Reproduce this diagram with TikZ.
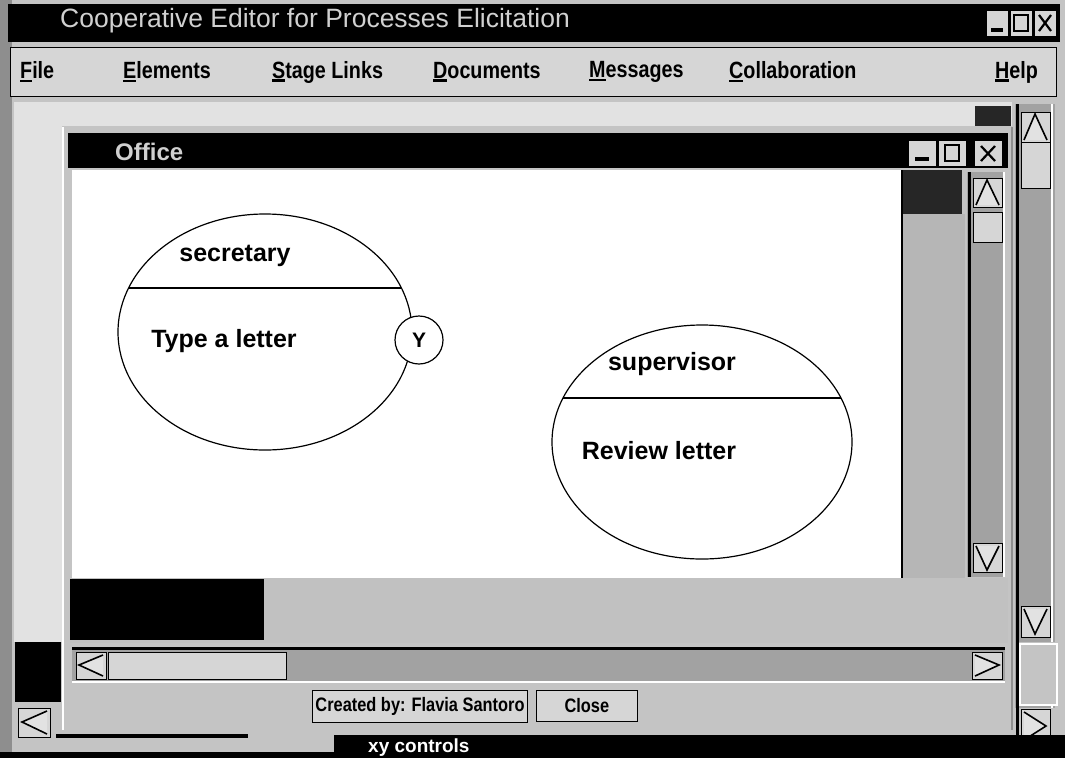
\documentclass[tikz,border=0pt]{standalone}
\usepackage{fontspec}
\setmainfont{Liberation Sans}
\newfontfamily\narrowfont[FakeStretch=0.84]{Liberation Sans}
\usetikzlibrary{shapes.geometric}

\definecolor{panel}{HTML}{C4C4C4}
\definecolor{lightpanel}{HTML}{D6D6D6}
\definecolor{canvasgray}{HTML}{E2E2E2}
\definecolor{trough}{HTML}{A2A2A2}
\definecolor{darkpanel}{HTML}{8E8E8E}
\definecolor{titletext}{HTML}{D0D0D0}

% underlined access letter in the menu
\newcommand\mnem[1]{\setbox0\hbox{#1}\rlap{\rule[-3.5pt]{\wd0}{2.5pt}}#1}

\tikzset{
  menuitem/.style={anchor=west, inner sep=0pt, font=\narrowfont\bfseries\fontsize{23.5}{26}\selectfont},
  rolename/.style={inner sep=0pt, font=\bfseries\fontsize{25}{29}\selectfont},
  btn/.style={fill=lightpanel, draw=black, line width=1pt},
  arrowtri/.style={fill=canvasgray, draw=black, line width=1.6pt, line join=miter},
}

\begin{document}
\begin{tikzpicture}[x=1pt, y=-1pt]
\clip (0,0) rectangle (1065,758);
\fill[panel] (0,0) rectangle (1065,758);
\fill[darkpanel] (0,0) rectangle (12,758);

% main window: title and menu
\fill[black] (8,4) rectangle (1060,42);
\node[anchor=west, inner sep=0pt, text=titletext, font=\fontsize{26.5}{30}\selectfont] (apptitle) at (60,21) {Cooperative Editor for Processes Elicitation};
\foreach \x in {986,1010,1034}
  {\draw[btn] (\x,10) rectangle +(22,26);}
\fill[black] (991,28) rectangle (1003,32);
\draw[line width=1.6pt] (1014,15) rectangle (1028,31);
\draw[line width=2.2pt] (1039,15) -- (1051,31) (1051,15) -- (1039,31);

\draw[fill=lightpanel, line width=1pt] (10,47) rectangle (1056,96);
\node[menuitem] (mfile) at (20,72) {\mnem{F}ile};
\node[menuitem] (melem) at (123,72) {\mnem{E}lements};
\node[menuitem] (mstage) at (272,72) {\mnem{S}tage Links};
\node[menuitem] (mdocs) at (433,72) {\mnem{D}ocuments};
\node[menuitem] (mmsg) at (589,72) {\mnem{M}essages};
\node[menuitem] (mcollab) at (729,72) {\mnem{C}ollaboration};
\node[menuitem] (mhelp) at (995,72) {\mnem{H}elp};

% main window work area and its scroll bars
\fill[canvasgray] (14,102) rectangle (1012,642);
\fill[black!85] (975,106) rectangle (1011,131);
\fill[trough] (1015,104) rectangle (1055,708);
\draw[line width=3pt] (1017,104) -- (1017,735);
\draw[white, line width=2pt] (1052,104) -- (1052,708);
\draw[btn] (1021,112) rectangle (1050,142);
\draw[arrowtri] (1024,140) -- (1035,114) -- (1047,140);
\draw[btn] (1021,142) rectangle (1050,188);
\draw[btn] (1021,606) rectangle (1050,637);
\draw[arrowtri] (1024,609) -- (1035,634) -- (1047,609);
\fill[panel] (1019,642) rectangle (1058,706);
\draw[white, line width=1.5pt] (1020,644) rectangle (1057,705);
\draw[btn] (1021,709) rectangle (1050,742);
\draw[arrowtri] (1024,712) -- (1046,726) -- (1024,740);

\fill[black] (15,642) rectangle (61,702);
\draw[btn] (18,708) rectangle (50,737);
\draw[arrowtri] (47,711) -- (22,722) -- (47,734);
\draw[line width=4pt] (56,736) -- (248,736);

% the Office window
\fill[panel] (62,126) rectangle (1013,730);
\draw[white, line width=1.5pt] (63,127) -- (63,730);
\draw[darkpanel, line width=1.5pt] (1012,127) -- (1012,730);
\fill[black] (68,133) rectangle (1008,168);
\node[anchor=west, inner sep=0pt, text=titletext, font=\bfseries\fontsize{24}{28}\selectfont] (wintitle) at (115,152) {Office};
\foreach \x in {908,938,974}
  {\draw[btn] (\x,140) rectangle +(28,26);}
\fill[black] (915,157) rectangle (929,161);
\draw[line width=1.6pt] (945,145) rectangle (959,161);
\draw[line width=2.2pt] (981,146) -- (995,161) (995,146) -- (981,161);

% drawing area
\fill[white] (72,170) rectangle (902,578);
\fill[black!85] (902,170) rectangle (962,214);
\fill[lightpanel!85!black] (902,214) rectangle (965,578);
\draw[line width=1.2pt] (902,170) -- (902,578);

% vertical scroll bar
\fill[trough] (967,172) rectangle (1005,577);
\draw[line width=3pt] (969,172) -- (969,577);
\draw[white, line width=2pt] (1004,172) -- (1004,577);
\draw[btn] (973,178) rectangle (1002,207);
\draw[arrowtri] (976,205) -- (987,180) -- (999,205);
\draw[btn] (973,212) rectangle (1002,242);
\draw[btn] (973,543) rectangle (1002,572);
\draw[arrowtri] (976,546) -- (987,570) -- (999,546);

% area below the drawing
\fill[lightpanel!90!black] (70,578) rectangle (1008,643);
\fill[black] (70,579) rectangle (264,640);

% horizontal scroll bar
\fill[trough] (72,648) rectangle (1005,682);
\draw[line width=3pt] (72,648) -- (1005,648);
\draw[white, line width=2pt] (72,682) -- (1005,682);
\draw[btn] (76,652) rectangle (106,679);
\draw[arrowtri] (103,655) -- (79,665) -- (103,676);
\draw[btn] (108,652) rectangle (286,679);
\draw[btn] (972,652) rectangle (1002,679);
\draw[arrowtri] (975,655) -- (999,665) -- (975,676);

% footer
\node[draw, line width=1pt, fill=lightpanel, inner xsep=3pt, minimum height=32pt, font=\narrowfont\bfseries\fontsize{19.5}{22}\selectfont] (author) at (420,706) {Created by: Flavia Santoro};
\node[btn, inner xsep=28pt, minimum height=31pt, font=\narrowfont\bfseries\fontsize{19.5}{22}\selectfont, anchor=west] (close) at (536,706) {Close};

% the window below
\fill[black] (0,752) rectangle (334,758);
\fill[black] (334,735) rectangle (1065,758);
\node[anchor=west, inner sep=0pt, text=white, font=\bfseries\fontsize{19}{22}\selectfont] (xytitle) at (368,748) {xy controls};

% roles and tasks
\node[draw, ellipse, line width=1.2pt, minimum width=294pt, minimum height=236pt] (secretary) at (265,332) {};
\draw[line width=1.2pt] ([xshift=-136pt, yshift=44pt]secretary.center) -- ([xshift=136pt, yshift=44pt]secretary.center);
\node[rolename] (secname) at (235,256) {secretary};
\node[rolename] (sectask) at (224,341) {Type a letter};
\node[draw, circle, fill=white, line width=1.2pt, minimum size=48pt, inner sep=0pt, font=\bfseries\fontsize{21}{25}\selectfont] (yes) at (419,340) {Y};

\node[draw, ellipse, line width=1.2pt, minimum width=300pt, minimum height=234pt] (supervisor) at (702,442) {};
\draw[line width=1.2pt] ([xshift=-139pt, yshift=44pt]supervisor.center) -- ([xshift=139pt, yshift=44pt]supervisor.center);
\node[rolename] (supname) at (672,364) {supervisor};
\node[rolename] (suptask) at (659,451) {Review letter};
\end{tikzpicture}
\end{document}
